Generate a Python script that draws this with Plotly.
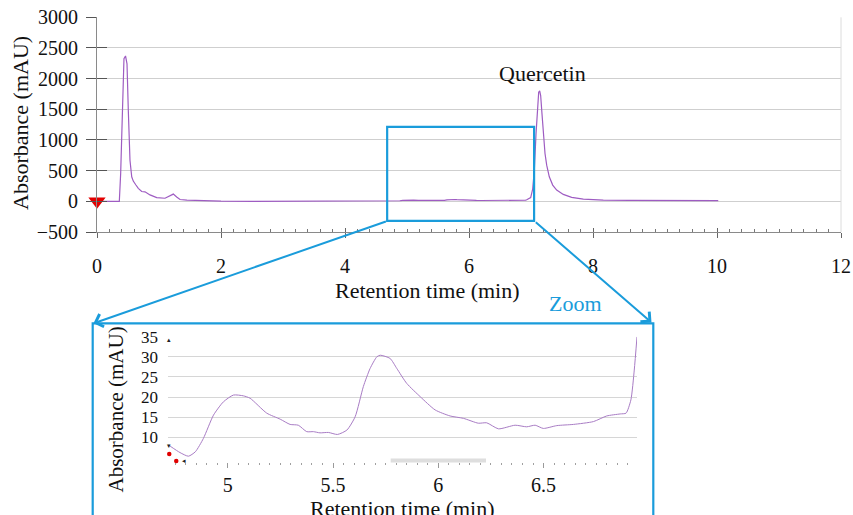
import plotly.graph_objects as go

# ---------------- data ----------------
# main chromatogram (retention time in min, absorbance in mAU)
head_time = [0.04, 0.36, 0.382, 0.408, 0.435, 0.46, 0.484, 0.505, 0.532, 0.56, 0.585, 0.625,
             0.666, 0.721, 0.774, 0.855, 0.963, 1.097, 1.177, 1.231, 1.285, 1.339, 1.45, 1.6,
             1.8, 2.0, 2.5, 3.0, 3.5, 4.0, 4.5]
head_abs = [0, 0, 460, 1640, 2325, 2370, 2240, 1480, 670, 400, 330, 270,
            212, 160, 155, 105, 60, 50, 85, 118, 70, 30, 20, 12,
            6, 2, 0, 0, 1, 3, 5]

# zoomed region (4.7 - 6.95 min)
inset_time = [4.726, 4.773, 4.813, 4.846, 4.884, 4.932, 4.979, 5.027, 5.074, 5.106, 5.185, 5.249,
              5.296, 5.335, 5.375, 5.407, 5.438, 5.478, 5.521, 5.566, 5.605, 5.644, 5.676, 5.708,
              5.724, 5.771, 5.803, 5.850, 5.914, 5.985, 6.056, 6.120, 6.190, 6.230, 6.286, 6.365,
              6.420, 6.460, 6.499, 6.563, 6.642, 6.737, 6.800, 6.864, 6.892, 6.915, 6.931, 6.944]
inset_abs = [7.8, 6.2, 5.3, 6.4, 9.7, 15.5, 18.8, 20.5, 20.3, 19.7, 16.0, 14.5,
             13.2, 13.0, 11.4, 11.4, 11.1, 11.2, 10.7, 11.8, 15.1, 22.6, 27.1, 30.0,
             30.4, 29.6, 27.1, 23.4, 20.1, 16.8, 15.3, 14.7, 13.5, 13.6, 12.1, 13.0,
             12.6, 13.0, 12.2, 12.9, 13.2, 13.9, 15.3, 15.8, 16.0, 19.3, 26.7, 35.0]

# quercetin peak and tail
tail_time = [6.995, 7.027, 7.053, 7.081, 7.102, 7.124, 7.14, 7.156, 7.177, 7.198, 7.226, 7.253,
             7.295, 7.35, 7.414, 7.521, 7.656, 7.844, 8.166, 8.597, 9.3, 10.02]
tail_abs = [60, 200, 500, 1100, 1560, 1780, 1800, 1725, 1430, 1100, 780, 590,
            400, 265, 183, 113, 65, 37, 21, 16, 12, 10]

marker_time = [0]
marker_abs = [0]

main_xticks = [0, 2, 4, 6, 8, 10, 12]
main_yticks = [-500, 0, 500, 1000, 1500, 2000, 2500, 3000]
inset_xticks = [5, 5.5, 6, 6.5]
inset_xlabels = ["5", "5.5", "6", "6.5"]
inset_yticks = [10, 15, 20, 25, 30, 35]

peak_label = "Quercetin"
peak_label_pos = (7.18, 2076)
zoom_t = (4.68, 7.05)
zoom_a = (-320, 1215)

main_time = head_time + inset_time + tail_time
main_abs = head_abs + inset_abs + tail_abs

# ---------------- style ----------------
W, H = 853, 515
FONT = "Liberation Serif, Times New Roman, serif"
BLUE = "#1a9cdb"
PURPLE = "#9e5cc2"
PURPLE_L = "#a87cc4"


def px(x):
    return x / W


def py(y):
    return 1 - y / H


fig = go.Figure()

fig.add_trace(go.Scatter(x=main_time, y=main_abs, mode="lines",
                         line=dict(color=PURPLE, width=1.2), xaxis="x", yaxis="y",
                         hoverinfo="skip"))
fig.add_trace(go.Scatter(x=marker_time, y=marker_abs, mode="markers",
                         marker=dict(symbol="triangle-down", size=15, color="#e30000"),
                         cliponaxis=False, xaxis="x", yaxis="y"))
fig.add_trace(go.Scatter(x=[None], y=[None], xaxis="x3", yaxis="y3", mode="lines"))
fig.add_trace(go.Scatter(x=inset_time, y=inset_abs, mode="lines",
                         line=dict(color=PURPLE_L, width=1, shape="spline", smoothing=0.6),
                         xaxis="x2", yaxis="y2"))

main_xdom = [px(97), px(841)]
main_ydom = [py(232), py(17.3)]
tickfont = dict(family=FONT, size=20, color="#111")

fig.update_layout(
    width=W, height=H, margin=dict(l=0, r=0, t=0, b=0, autoexpand=False),
    paper_bgcolor="white", plot_bgcolor="rgba(0,0,0,0)", showlegend=False,
    font=dict(family=FONT, color="#111"),
    xaxis=dict(domain=main_xdom, range=[0, 12], tickvals=main_xticks, automargin=False,
               showline=True, linecolor="#8a8a8a", linewidth=1,
               ticks="outside", ticklen=5, tickcolor="#666", showgrid=False, zeroline=False,
               tickfont=tickfont, ticklabelstandoff=11, anchor="y"),
    yaxis=dict(domain=main_ydom, range=[-500, 3000], tickvals=main_yticks, automargin=False,
               showline=True, linecolor="#8a8a8a", linewidth=1,
               ticks="outside", ticklen=10, tickcolor="#555",
               showgrid=True, gridcolor="#cfcfcf", gridwidth=1, zeroline=False,
               tickfont=tickfont, ticklabelstandoff=4, anchor="x"),
    xaxis3=dict(overlaying="x", range=[0, 12], tickvals=main_xticks, anchor="y3", automargin=False,
                ticks="inside", ticklen=4, tickcolor="#666", showticklabels=False,
                showgrid=False, zeroline=False, showline=False,
                minor=dict(ticks="inside", ticklen=3, tickcolor="#777", dtick=0.2, showgrid=False)),
    yaxis3=dict(overlaying="y", range=[-500, 3000], tickvals=main_yticks, anchor="x3", automargin=False,
                ticks="inside", ticklen=10, tickcolor="#555", showticklabels=False,
                showgrid=False, zeroline=False, showline=False),
    xaxis2=dict(domain=[px(168), px(637)], range=[4.716, 6.944], anchor="y2", automargin=False,
                tickvals=inset_xticks, ticktext=inset_xlabels,
                showline=False, showgrid=False, zeroline=False,
                ticks="outside", ticklen=5, tickcolor="#9a9a9a",
                minor=dict(ticks="outside", ticklen=2, tickcolor="#a0a0a0", dtick=0.05, showgrid=False),
                tickfont=tickfont, ticklabelstandoff=0),
    yaxis2=dict(domain=[py(461.7), py(336.7)], range=[3.93, 35], anchor="x2", automargin=False,
                tickvals=inset_yticks, showline=False, ticks="",
                showgrid=True, gridcolor="#d6d6d6", gridwidth=1, zeroline=False,
                tickfont=dict(family=FONT, size=17, color="#111"), ticklabelstandoff=9),
)

shapes = [
    # right border of main plot area
    dict(type="line", xref="x domain", yref="y domain", x0=1, x1=1, y0=0, y1=1,
         line=dict(color="#dcdcdc", width=1)),
    # zoom window on main chart
    dict(type="rect", xref="x", yref="y", x0=zoom_t[0], x1=zoom_t[1], y0=zoom_a[0], y1=zoom_a[1],
         line=dict(color=BLUE, width=2.2)),
    # inset frame
    dict(type="rect", xref="paper", yref="paper", x0=px(92.7), x1=px(653.3), y0=-0.1, y1=py(323.3),
         line=dict(color=BLUE, width=2.2)),
    # scrollbar artefact in inset
    dict(type="rect", xref="paper", yref="paper", x0=px(390.7), x1=px(486), y0=py(462.5), y1=py(458.5),
         fillcolor="#dedede", line=dict(width=0)),
    # red handle dots
    dict(type="circle", xref="paper", yref="paper", x0=px(167), x1=px(171.5), y0=py(456.3), y1=py(451.8),
         fillcolor="#e00000", line=dict(width=0)),
    dict(type="circle", xref="paper", yref="paper", x0=px(174), x1=px(178.5), y0=py(463.3), y1=py(458.8),
         fillcolor="#e00000", line=dict(width=0)),
]
fig.update_layout(shapes=shapes)


def label(text, x, y, size, color="#111", angle=0):
    return dict(text=text, x=px(x), y=py(y), xref="paper", yref="paper", textangle=angle,
                xanchor="center", yanchor="middle", showarrow=False,
                font=dict(family=FONT, size=size, color=color))


ann = [
    dict(text=peak_label, x=peak_label_pos[0], y=peak_label_pos[1], xref="x", yref="y",
         xanchor="center", yanchor="middle",
         showarrow=False, font=dict(family=FONT, size=22, color="#111")),
    label("Retention time (min)", 427, 290, 22),
    label("Absorbance (mAU)", 21, 123, 22, angle=-90),
    label("Zoom", 575, 303, 22, color=BLUE),
    label("Absorbance (mAU)", 115.5, 410, 21, angle=-90),
    label("Retention time (min)", 402, 508, 22),
    # connector arrows from zoom window to inset
    dict(text="", x=px(93.5), y=py(323.3), xref="paper", yref="paper", showarrow=True,
         ax=387.4 - 93.5, ay=221 - 323.3, axref="pixel", ayref="pixel",
         arrowhead=4, arrowsize=1.3, arrowwidth=2, arrowcolor=BLUE, standoff=0),
    dict(text="", x=px(651.5), y=py(322.5), xref="paper", yref="paper", showarrow=True,
         ax=534.3 - 651.5, ay=221 - 322.5, axref="pixel", ayref="pixel",
         arrowhead=4, arrowsize=1.3, arrowwidth=2, arrowcolor=BLUE, standoff=0),
    # small handle glyphs in inset
    dict(text="▴", x=px(168.5), y=py(340), xref="paper", yref="paper", showarrow=False,
         xanchor="center", yanchor="middle", font=dict(size=7, color="#222")),
    dict(text="▾", x=px(168.5), y=py(446), xref="paper", yref="paper", showarrow=False,
         xanchor="center", yanchor="middle", font=dict(size=7, color="#222")),
    dict(text="◂", x=px(184), y=py(461), xref="paper", yref="paper", showarrow=False,
         xanchor="center", yanchor="middle", font=dict(size=7, color="#222")),
]
fig.update_layout(annotations=ann)

fig.write_html("out.html", config={"displayModeBar": False},
               post_script="document.body.style.margin='0px';")
